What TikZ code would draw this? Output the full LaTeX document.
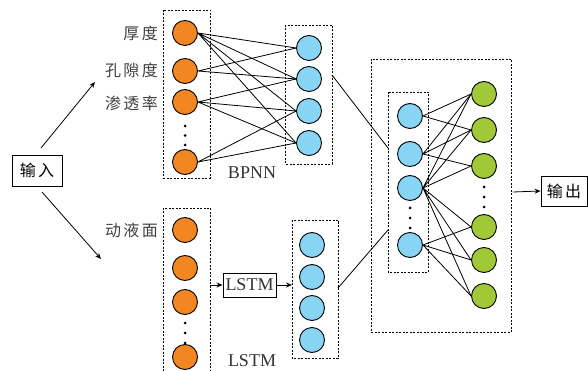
\documentclass[tikz,border=0pt]{standalone}
\usepackage{fontspec}
\setmainfont{Liberation Serif}
\newfontfamily\cjk[LetterSpace=15]{Noto Sans CJK SC}
\usetikzlibrary{arrows.meta}

\definecolor{inorange}{RGB}{242,135,34}
\definecolor{hidblue}{RGB}{135,212,245}
\definecolor{outgreen}{RGB}{160,200,55}

\tikzset{
  unit/.style={circle, draw, line width=0.9pt, minimum size=25pt, inner sep=0pt},
  dbox/.style={draw, dashed, dash pattern=on 2pt off 1.5pt, line width=0.8pt},
  link/.style={line width=0.8pt},
  arr/.style={line width=0.8pt, -{Stealth[length=6pt,width=5pt]}},
  cntext/.style={font=\cjk\fontsize{16}{18}\selectfont, text=black!75, anchor=east, inner sep=0pt},
  entext/.style={font=\fontsize{18}{20}\selectfont, text=black!80, inner sep=0pt}
}

\begin{document}
\begin{tikzpicture}[x=1pt, y=-1pt]
\useasboundingbox (0,0) rectangle (588,371);

% input and output boxes
\node[draw, line width=0.9pt, minimum width=50pt, minimum height=31pt, font=\cjk\fontsize{16}{18}\selectfont] (in) at (37,170.5) {输入};
\node[draw, line width=0.9pt, minimum width=46pt, minimum height=30pt, font=\cjk\fontsize{16}{18}\selectfont] (out) at (564,191) {输出};
\coordinate (upstart) at (41,148);
\coordinate (upend) at (95,82);
\coordinate (dnstart) at (42,192);
\coordinate (dnend) at (101,259);
\draw[arr] (upstart) -- (upend);
\draw[arr] (dnstart) -- (dnend);

% BPNN part
\draw[dbox] (163,10) rectangle (210,178);
\node[unit, fill=inorange] (o1) at (185,33) {};
\node[unit, fill=inorange] (o2) at (185,71) {};
\node[unit, fill=inorange] (o3) at (185,102) {};
\node[unit, fill=inorange] (o4) at (185,162) {};
\fill (185,126) circle (1.5pt) (185,135.5) circle (1.5pt) (185,145) circle (1.5pt);
\node[cntext] at (158,33) {厚度};
\node[cntext] at (158,70) {孔隙度};
\node[cntext] at (158,103) {渗透率};

\draw[dbox] (285,25) rectangle (332,164);
\node[unit, fill=hidblue] (b1) at (309,48) {};
\node[unit, fill=hidblue] (b2) at (309,79) {};
\node[unit, fill=hidblue] (b3) at (309,111) {};
\node[unit, fill=hidblue] (b4) at (309,143) {};
\node[entext] at (252,173) {BPNN};

\draw[link] (o1.east) -- (b1.west) (o1.east) -- (b2.west) (o1.east) -- (b3.west) (o1.east) -- (b4.west);
\draw[link] (o2.east) -- (b1.west) (o2.east) -- (b2.west);
\draw[link] (o3.east) -- (b2.west) (o3.east) -- (b3.west) (o3.east) -- (b4.west);
\draw[link] (o4.east) -- (b3.west) (o4.east) -- (b4.west);

% LSTM part
\draw[dbox] (163,208) rectangle (210,380);
\node[unit, fill=inorange] (d1) at (185,230) {};
\node[unit, fill=inorange] (d2) at (185,268) {};
\node[unit, fill=inorange] (d3) at (185,302) {};
\node[unit, fill=inorange] (d4) at (185,357) {};
\fill (185,323) circle (1.5pt) (185,333) circle (1.5pt) (185,343) circle (1.5pt);
\node[cntext] at (158,230) {动液面};

\node[draw, line width=0.9pt, minimum width=53pt, minimum height=24pt, inner sep=0pt, entext] (lstm) at (249.5,285) {LSTM};
\coordinate (lsin) at (210,285);
\coordinate (lsout) at (292,285);
\draw[arr] (lsin) -- (lstm.west);
\draw[arr] (lstm.east) -- (lsout);

\draw[dbox] (292,220) rectangle (338,358);
\node[unit, fill=hidblue] (l1) at (312,245) {};
\node[unit, fill=hidblue] (l2) at (312,277) {};
\node[unit, fill=hidblue] (l3) at (312,308) {};
\node[unit, fill=hidblue] (l4) at (312,340) {};
\node[entext] at (252,361) {LSTM};

% merged network
\draw[dbox] (371,59) rectangle (511,332);
\draw[dbox] (388,92) rectangle (428,272);
\node[unit, fill=hidblue] (h1) at (410,116) {};
\node[unit, fill=hidblue] (h2) at (410,154) {};
\node[unit, fill=hidblue] (h3) at (410,188) {};
\node[unit, fill=hidblue] (h4) at (410,245) {};
\fill (410,208) circle (1.5pt) (410,218) circle (1.5pt) (410,228) circle (1.5pt);

\node[unit, fill=outgreen] (g1) at (484,94) {};
\node[unit, fill=outgreen] (g2) at (484,130) {};
\node[unit, fill=outgreen] (g3) at (484,166) {};
\node[unit, fill=outgreen] (g4) at (484,227) {};
\node[unit, fill=outgreen] (g5) at (484,260) {};
\node[unit, fill=outgreen] (g6) at (484,296) {};
\fill (484,187) circle (1.5pt) (484,197) circle (1.5pt) (484,207) circle (1.5pt);

\draw[link] (h1.east) -- (g1.west) (h1.east) -- (g2.west);
\draw[link] (h2.east) -- (g1.west) (h2.east) -- (g2.west) (h2.east) -- (g3.west);
\draw[link] (h3.east) -- (g1.west) (h3.east) -- (g2.west) (h3.east) -- (g3.west)
            (h3.east) -- (g4.west) (h3.east) -- (g5.west) (h3.east) -- (g6.west);
\draw[link] (h4.east) -- (g4.west) (h4.east) -- (g5.west) (h4.east) -- (g6.west);

% joins between the parts
\coordinate (bpjoin) at (332,75);
\coordinate (lsjoin) at (338,288);
\coordinate (intop) at (388,148);
\coordinate (inbot) at (388,230);
\draw[link] (bpjoin) -- (intop);
\draw[link] (lsjoin) -- (inbot);

\coordinate (outstart) at (513,192);
\draw[arr] (outstart) -- (out.west);
\end{tikzpicture}
\end{document}
